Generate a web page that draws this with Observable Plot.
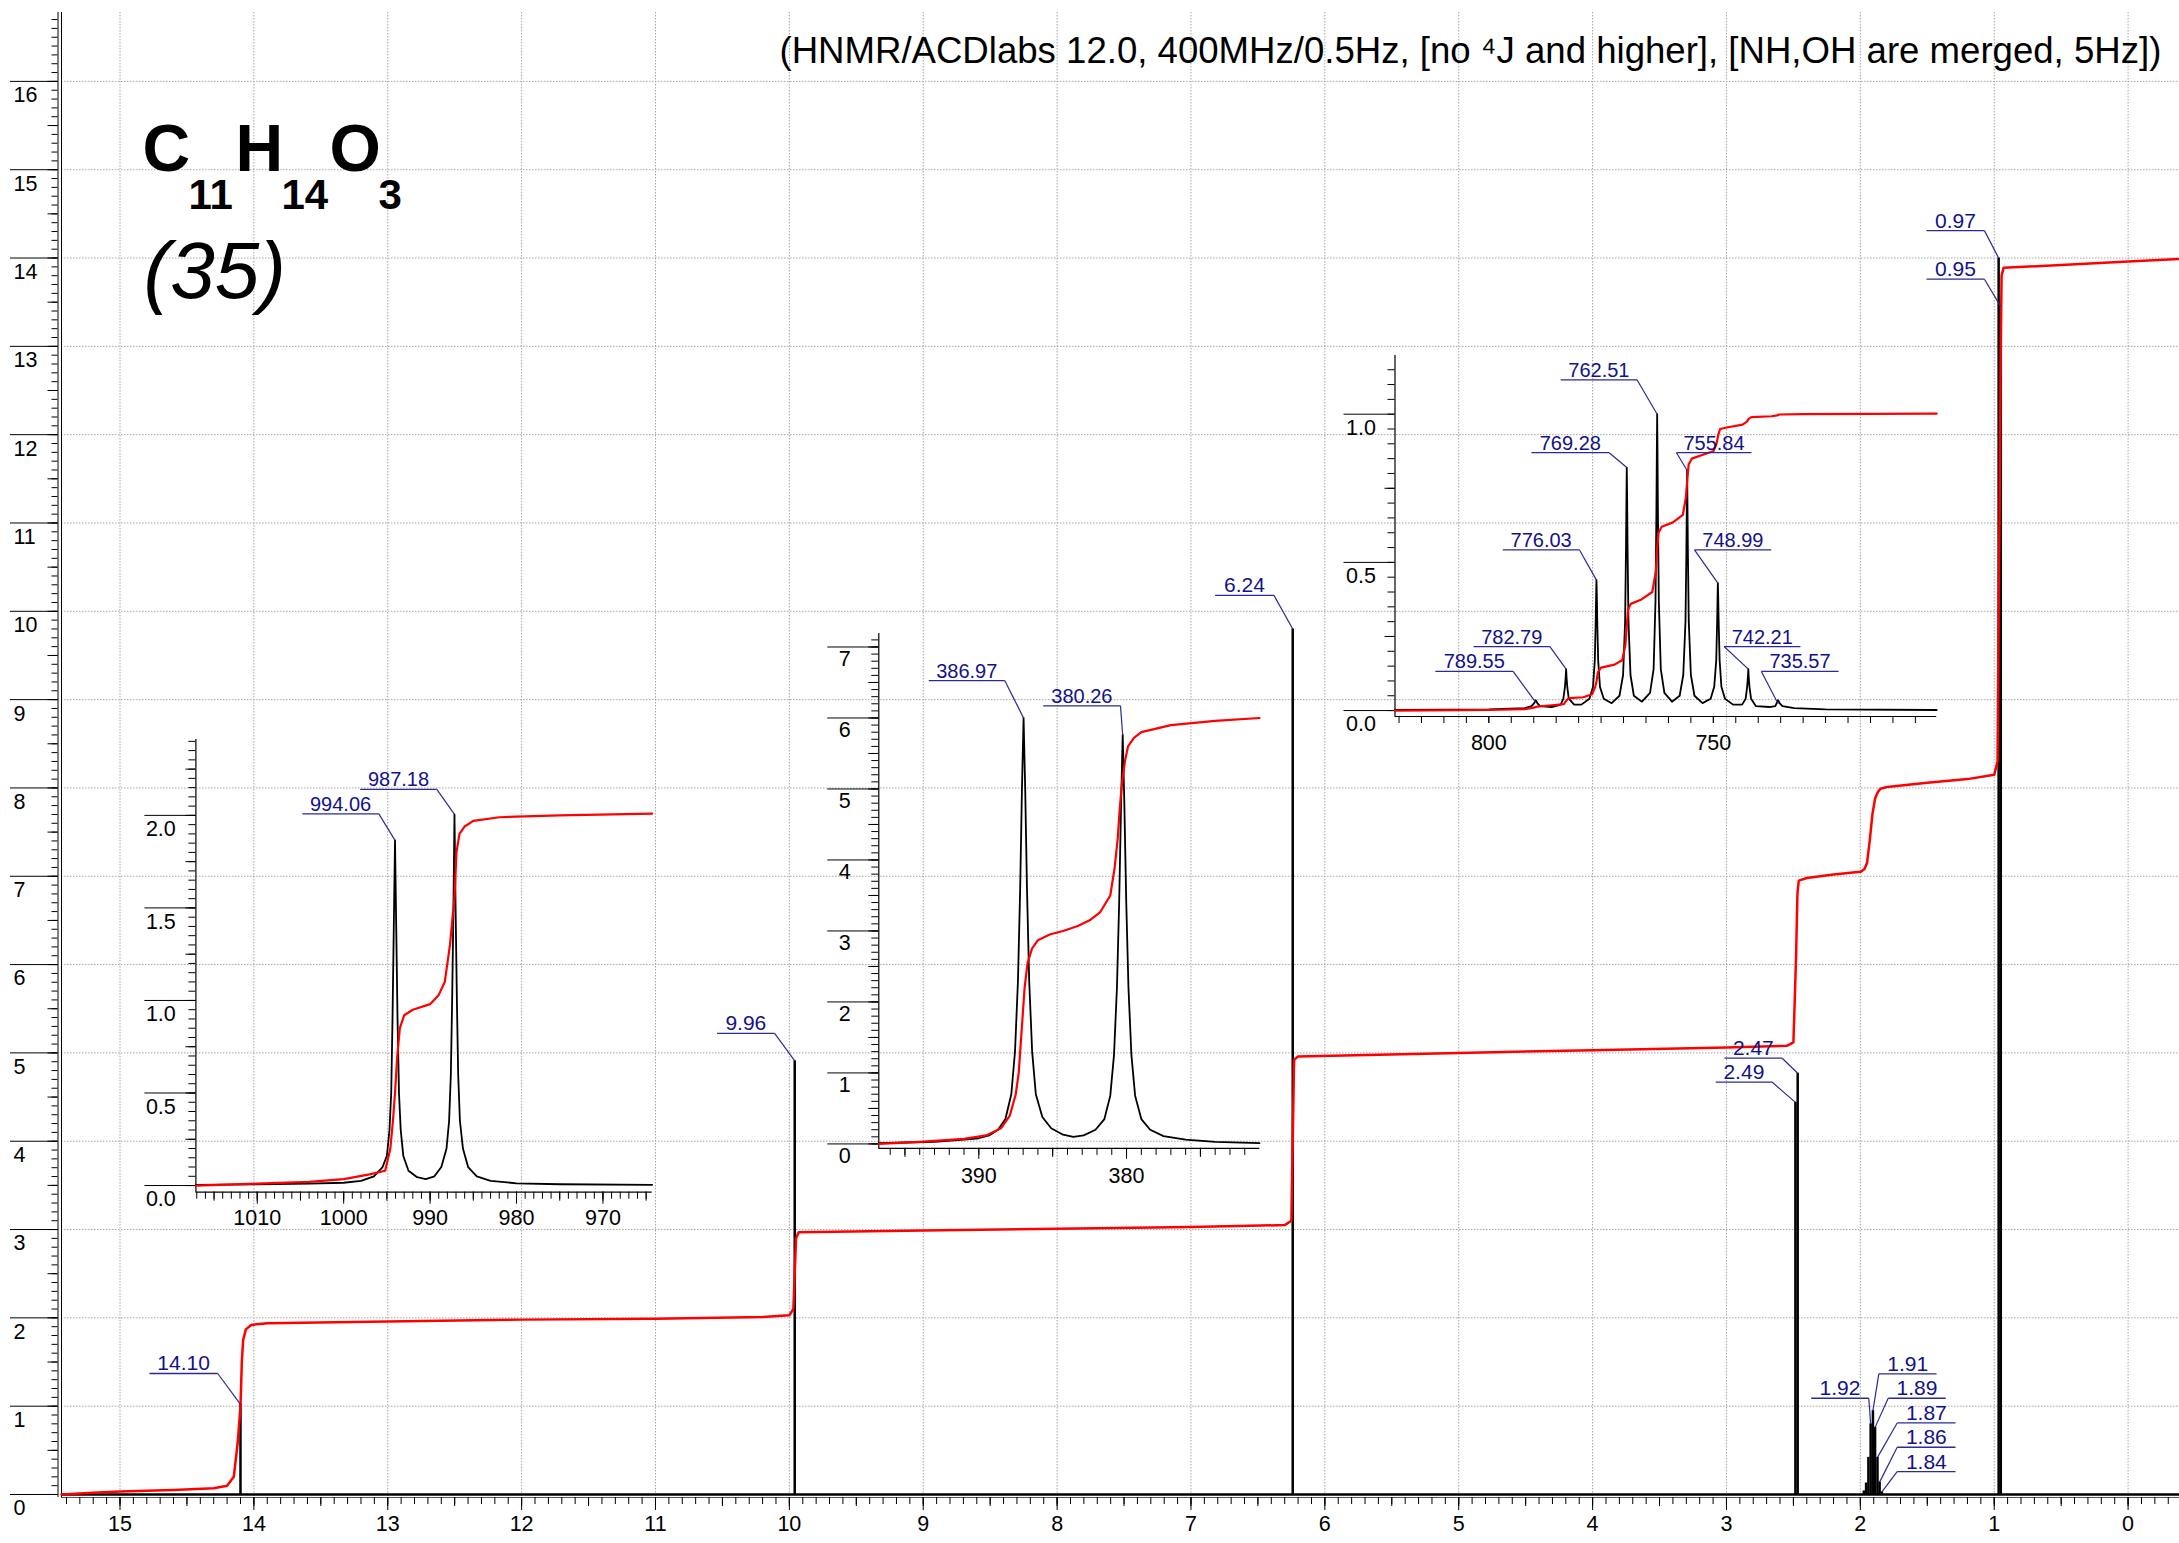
<!DOCTYPE html>
<html><head><meta charset="utf-8">
<script src="https://cdn.jsdelivr.net/npm/d3@7"></script>
<script src="https://cdn.jsdelivr.net/npm/@observablehq/plot@0.6"></script>
<style>
html,body{margin:0;padding:0;background:#fff;}
#chart{position:relative;width:2179px;height:1543px;overflow:hidden;background:#fff;}
#chart svg{position:absolute;left:0;top:0;}
</style></head><body><div id="chart"></div>
<script>
// ---------------- DATA ----------------
// main spectrum (ppm, intensity)
const mainPeakPpm    = [14.10, 9.96, 6.24, 2.485, 2.468, 1.974, 1.957, 1.940, 1.923, 1.906, 1.890, 1.872, 1.856, 1.839, 0.967, 0.951];
const mainPeakHeight = [1.02, 4.91, 9.80, 4.44, 4.77, 0.04, 0.13, 0.42, 0.80, 0.95, 0.76, 0.42, 0.14, 0.03, 14.0, 13.45];
const mainIntegral = [[15.437,0.0],[15.2,0.02],[15.0,0.035],[14.6,0.05],[14.3,0.07],[14.2,0.1],[14.15,0.2],[14.12,0.6],[14.10,1.0],[14.09,1.5],[14.08,1.75],[14.06,1.87],[14.02,1.92],[13.9,1.94],[13.0,1.96],[12.0,1.98],[11.0,1.99],[10.2,2.01],[10.0,2.03],[9.97,2.1],[9.96,2.5],[9.95,2.9],[9.93,2.97],[9.0,2.99],[8.0,3.01],[7.0,3.03],[6.3,3.05],[6.25,3.1],[6.24,4.0],[6.23,4.92],[6.2,4.96],[5.0,5.0],[4.0,5.03],[3.0,5.06],[2.55,5.08],[2.5,5.12],[2.49,5.6],[2.48,6.1],[2.47,6.8],[2.46,6.95],[2.4,6.98],[2.2,7.02],[2.0,7.05],[1.97,7.08],[1.95,7.15],[1.93,7.4],[1.91,7.7],[1.89,7.88],[1.87,7.95],[1.85,7.99],[1.8,8.01],[1.5,8.06],[1.2,8.1],[1.0,8.15],[0.975,8.3],[0.967,10.0],[0.96,11.1],[0.951,13.0],[0.945,13.8],[0.93,13.89],[0.5,13.92],[0.0,13.96],[-0.384,13.99]];
const mainLabelText = ["14.10","9.96","6.24","2.47","2.49","1.92","1.91","1.89","1.87","1.86","1.84","0.97","0.95"];
const mainLabelPeakX = [14.10, 9.96, 6.24, 2.468, 2.485, 1.923, 1.906, 1.890, 1.872, 1.856, 1.839, 0.967, 0.951];
const mainLabelPeakY = [1.02, 4.91, 9.80, 4.77, 4.44, 0.80, 0.95, 0.76, 0.42, 0.14, 0.03, 14.0, 13.45];
const mainLabelLineY = [1.37, 5.22, 10.18, 4.94, 4.67, 1.09, 1.366, 1.09, 0.81, 0.535, 0.26, 14.31, 13.76];
const mainLabelX1 = [14.78, 10.54, 6.82, 3.015, 3.08, 2.367, 1.862, 1.792, 1.725, 1.725, 1.725, 1.506, 1.506];
const mainLabelX2 = [14.27, 10.11, 6.38, 2.584, 2.66, 1.937, 1.431, 1.362, 1.289, 1.289, 1.289, 1.073, 1.073];

// inset 1 : 2.47/2.49 doublet (Hz)
const inset1Spectrum = [[1017.1,0.004],[1010,0.006],[1004,0.01],[1000,0.015],[998,0.025],[996.5,0.05],[995.5,0.1],[995,0.16],[994.7,0.3],[994.5,0.5],[994.35,0.9],[994.2,1.4],[994.06,1.865],[993.92,1.4],[993.77,0.9],[993.6,0.5],[993.4,0.3],[993.1,0.16],[992.5,0.08],[991.5,0.045],[990.5,0.035],[989.5,0.05],[988.7,0.1],[988.1,0.2],[987.8,0.35],[987.6,0.6],[987.45,1.0],[987.3,1.5],[987.18,2.005],[987.05,1.5],[986.9,1.0],[986.75,0.6],[986.55,0.35],[986.2,0.2],[985.6,0.1],[984.6,0.05],[983,0.025],[980,0.012],[975,0.007],[964.3,0.004]];
const inset1Integral = [[1017.1,0.0],[1010,0.01],[1004,0.02],[1000,0.035],[997,0.06],[995.2,0.08],[994.6,0.2],[994.3,0.35],[994.06,0.5],[993.8,0.7],[993.5,0.85],[993,0.92],[992,0.95],[990,0.98],[989,1.03],[988.3,1.1],[987.7,1.3],[987.4,1.45],[987.18,1.55],[986.95,1.8],[986.6,1.9],[986,1.94],[985,1.97],[982,1.99],[975,2.0],[964.3,2.01]];
const inset1LabelText = ["994.06","987.18"];
const inset1LabelPeakX = [994.06, 987.18];
const inset1LabelPeakY = [1.865, 2.005];
const inset1LabelLineY = [2.008, 2.141];
const inset1LabelX1 = [1004.79, 998.09];
const inset1LabelX2 = [995.93, 989.22];

// inset 2 : 0.95/0.97 doublet (Hz)
const inset2Spectrum = [[396.77,0.01],[395,0.02],[393,0.03],[391,0.06],[390,0.08],[389.3,0.12],[388.7,0.2],[388.2,0.35],[387.8,0.7],[387.55,1.3],[387.35,2.3],[387.2,3.6],[387.08,5.0],[386.97,6.0],[386.86,5.0],[386.74,3.6],[386.59,2.3],[386.39,1.3],[386.14,0.7],[385.7,0.38],[385.1,0.22],[384.3,0.13],[383.6,0.1],[382.9,0.12],[382.1,0.2],[381.5,0.35],[381.1,0.68],[380.85,1.25],[380.65,2.2],[380.5,3.4],[380.37,4.8],[380.26,5.76],[380.15,4.8],[380.02,3.4],[379.87,2.2],[379.67,1.25],[379.42,0.68],[379.0,0.35],[378.4,0.2],[377.5,0.11],[376,0.06],[374,0.03],[371,0.01]];
const inset2Integral = [[396.77,0.0],[394,0.03],[391,0.07],[389.5,0.12],[388.5,0.22],[387.9,0.4],[387.5,0.7],[387.3,1.0],[387.1,1.6],[386.9,2.2],[386.7,2.55],[386.4,2.75],[386.0,2.87],[385.2,2.95],[384.3,3.0],[383.3,3.07],[382.5,3.15],[381.8,3.26],[381.1,3.5],[380.8,3.9],[380.6,4.3],[380.45,4.75],[380.3,5.1],[380.1,5.4],[379.9,5.6],[379.5,5.72],[379,5.8],[377,5.9],[374,5.96],[371,6.0]];
const inset2LabelText = ["386.97","380.26"];
const inset2LabelPeakX = [386.97, 380.26];
const inset2LabelPeakY = [6.0, 5.76];
const inset2LabelLineY = [6.525, 6.17];
const inset2LabelX1 = [393.39, 385.64];
const inset2LabelX2 = [388.24, 380.41];

// inset 3 : 1.84-1.97 multiplet (Hz)
const inset3Spectrum = [[820.9,0.002],[800,0.004],[792,0.008],[790.5,0.015],[789.9,0.025],[789.55,0.035],[789.2,0.025],[788.6,0.015],[786,0.012],[784,0.02],[783.4,0.04],[783.05,0.08],[782.9,0.11],[782.79,0.14],[782.68,0.11],[782.53,0.08],[782.2,0.04],[781,0.02],[779.4,0.02],[777.6,0.04],[776.8,0.08],[776.4,0.17],[776.2,0.3],[776.1,0.39],[776.03,0.44],[775.95,0.39],[775.85,0.3],[775.65,0.17],[775.25,0.08],[774.4,0.04],[772.65,0.025],[770.9,0.05],[770.1,0.12],[769.65,0.3],[769.45,0.55],[769.35,0.72],[769.28,0.82],[769.2,0.72],[769.1,0.55],[768.9,0.3],[768.45,0.12],[767.7,0.05],[765.9,0.03],[764.1,0.06],[763.3,0.14],[762.88,0.37],[762.68,0.67],[762.58,0.88],[762.51,1.0],[762.44,0.88],[762.34,0.67],[762.14,0.37],[761.7,0.14],[760.9,0.06],[759.2,0.03],[757.5,0.05],[756.7,0.12],[756.2,0.3],[756.0,0.54],[755.9,0.71],[755.84,0.81],[755.77,0.71],[755.67,0.54],[755.47,0.3],[755.0,0.12],[754.2,0.05],[752.4,0.025],[750.6,0.04],[749.8,0.08],[749.35,0.17],[749.15,0.3],[749.06,0.38],[748.99,0.43],[748.91,0.38],[748.81,0.3],[748.6,0.17],[748.2,0.08],[747.4,0.04],[745.6,0.02],[743.6,0.02],[742.8,0.04],[742.47,0.08],[742.32,0.11],[742.21,0.14],[742.1,0.11],[741.95,0.08],[741.6,0.04],[740.5,0.015],[737.5,0.012],[736.2,0.015],[735.9,0.025],[735.57,0.035],[735.25,0.025],[734.6,0.015],[732,0.008],[725,0.004],[700.25,0.002]];
const inset3Integral = [[820.9,0.0],[800,0.002],[792,0.005],[790,0.01],[789.3,0.013],[786,0.018],[783.3,0.022],[782.9,0.03],[782.5,0.038],[782,0.042],[779,0.045],[777,0.055],[776.3,0.08],[776,0.1],[775.7,0.13],[775,0.145],[772,0.155],[770.3,0.17],[769.6,0.22],[769.3,0.28],[769,0.34],[768.4,0.36],[766,0.375],[763.6,0.4],[762.8,0.47],[762.5,0.55],[762.2,0.6],[761.5,0.62],[759,0.635],[756.8,0.66],[756.1,0.72],[755.8,0.78],[755.5,0.83],[754.8,0.85],[752,0.865],[750,0.875],[749.3,0.9],[748.9,0.93],[748.5,0.95],[747,0.955],[743.5,0.965],[742.5,0.975],[742.1,0.985],[741.5,0.99],[737,0.993],[735.8,0.996],[735.3,0.999],[730,1.0],[700.25,1.002]];
const inset3LabelText = ["789.55","782.79","776.03","769.28","762.51","755.84","748.99","742.21","735.57"];
const inset3LabelPeakX = [789.55, 782.79, 776.03, 769.28, 762.51, 755.84, 748.99, 742.21, 735.57];
const inset3LabelPeakY = [0.028, 0.14, 0.44, 0.82, 1.0, 0.81, 0.43, 0.14, 0.023];
const inset3LabelLineY = [0.132, 0.216, 0.542, 0.87, 1.116, 0.87, 0.542, 0.216, 0.132];
const inset3LabelX1 = [811.9, 803.4, 796.9, 790.5, 784.0, 758.2, 754.2, 747.6, 739.3];
const inset3LabelX2 = [794.6, 786.4, 779.8, 773.2, 767.0, 741.5, 737.1, 730.6, 722.1];

// texts
const titleText = "(HNMR/ACDlabs 12.0, 400MHz/0.5Hz, [no \u2074J and higher], [NH,OH are merged, 5Hz])";
const formulaParts = ["C", "11", "H", "14", "O", "3"];
const compoundNumber = "(35)";

// ---------------- DRAWING ----------------
const W = 2179, H = 1543;
const FONT = "Arial, 'Liberation Sans', Helvetica, sans-serif";
const NAVY = "#12128a";
const LEAD = "#2a2a9a";
const TICKFONT = 21.5;
const GRID = {stroke: "#a6a6a6", strokeOpacity: 1, strokeDasharray: "1.5,1.5", strokeWidth: 1};
const pts = a => a.map(([x, y]) => ({x, y}));
const noText = () => "";

function labelMarks(texts, px, py, ly, x1, x2, size) {
  const rows = texts.map((t, i) => ({
    t, px: px[i], py: py[i], ly: ly[i], x1: x1[i], x2: x2[i],
    ax: Math.abs(x1[i] - px[i]) < Math.abs(x2[i] - px[i]) ? x1[i] : x2[i],
    cx: (x1[i] + x2[i]) / 2
  }));
  return [
    Plot.link(rows, {x1: "x1", x2: "x2", y1: "ly", y2: "ly", stroke: LEAD, strokeWidth: 1.3}),
    Plot.link(rows, {x1: "ax", y1: "ly", x2: "px", y2: "py", stroke: LEAD, strokeWidth: 1.2}),
    Plot.text(rows, {x: "cx", y: "ly", text: "t", dy: -3, lineAnchor: "bottom", fill: NAVY, fontSize: size, fontFamily: FONT})
  ];
}

function makePlot(m, xDomain, yDomain, marks) {
  return Plot.plot({
    width: W, height: H,
    marginLeft: m[0], marginRight: m[1], marginTop: m[2], marginBottom: m[3],
    x: {domain: xDomain, axis: null, label: null},
    y: {domain: yDomain, axis: null, label: null},
    style: {background: "transparent", fontFamily: FONT, fontSize: "20px", color: "#000", overflow: "visible"},
    marks
  });
}

const chart = document.getElementById("chart");

// ---- main plot ----
{
  const xD = [15.437, -0.384], yD = [-0.034, 16.78];
  const peaks = mainPeakPpm.map((x, i) => ({x, y: mainPeakHeight[i]}));
  const svg = makePlot([61, 0, 12, 46], xD, yD, [
    Plot.gridX({ticks: d3.range(0, 16), ...GRID}),
    Plot.gridY({ticks: d3.range(0, 17), ...GRID}),
    Plot.ruleX([xD[0]], {stroke: "#000", strokeWidth: 1}),
    Plot.ruleX([xD[0]], {stroke: "#000", strokeWidth: 1, dx: -3.5}),
    Plot.ruleY([yD[0]], {stroke: "#555", strokeWidth: 1}),
    Plot.axisX({ticks: d3.range(-3, 155).map(i => i / 10), tickSize: 7, tickFormat: noText, label: null}),
    Plot.axisX({ticks: d3.range(0, 31).map(i => i / 2), tickSize: 9, tickFormat: noText, label: null}),
    Plot.axisX({ticks: d3.range(0, 16), tickSize: 13, tickPadding: 5, tickFormat: d => String(d), fontSize: TICKFONT, label: null}),
    Plot.axisY({ticks: d3.range(0, 168).map(i => i / 10), tickSize: 6, tickFormat: noText, dx: -3.5, label: null}),
    Plot.axisY({ticks: d3.range(0, 33).map(i => i / 2), tickSize: 10, tickFormat: noText, dx: -3.5, label: null}),
    Plot.axisY({ticks: d3.range(0, 17), tickSize: 47.5, tickFormat: noText, dx: -3.5, label: null}),
    Plot.axisY({ticks: d3.range(0, 17), tickSize: 0, tickPadding: 0, textAnchor: "start", dx: -48, dy: 14, tickFormat: d => String(d), fontSize: TICKFONT, label: null}),
    Plot.ruleY([0], {stroke: "#000", strokeWidth: 2.5}),
    Plot.ruleX(peaks, {x: "x", y1: 0, y2: "y", stroke: "#000", strokeWidth: 2.5}),
    Plot.line(pts(mainIntegral), {x: "x", y: "y", stroke: "#ff0000", strokeWidth: 2.5}),
    ...labelMarks(mainLabelText, mainLabelPeakX, mainLabelPeakY, mainLabelLineY, mainLabelX1, mainLabelX2, 21),
    Plot.text([titleText], {frameAnchor: "top-left", text: d => d, dx: 718, dy: 50, textAnchor: "start", lineAnchor: "bottom", fontSize: 36.6, fill: "#000"}),
    Plot.text([formulaParts[0]], {frameAnchor: "top-left", text: d => d, dx: 81, dy: 158, textAnchor: "start", lineAnchor: "bottom", fontSize: 66, fontWeight: "bold"}),
    Plot.text([formulaParts[1]], {frameAnchor: "top-left", text: d => d, dx: 127, dy: 196, textAnchor: "start", lineAnchor: "bottom", fontSize: 42, fontWeight: "bold"}),
    Plot.text([formulaParts[2]], {frameAnchor: "top-left", text: d => d, dx: 174, dy: 158, textAnchor: "start", lineAnchor: "bottom", fontSize: 66, fontWeight: "bold"}),
    Plot.text([formulaParts[3]], {frameAnchor: "top-left", text: d => d, dx: 220, dy: 196, textAnchor: "start", lineAnchor: "bottom", fontSize: 42, fontWeight: "bold"}),
    Plot.text([formulaParts[4]], {frameAnchor: "top-left", text: d => d, dx: 268, dy: 158, textAnchor: "start", lineAnchor: "bottom", fontSize: 66, fontWeight: "bold"}),
    Plot.text([formulaParts[5]], {frameAnchor: "top-left", text: d => d, dx: 317, dy: 196, textAnchor: "start", lineAnchor: "bottom", fontSize: 42, fontWeight: "bold"}),
    Plot.text([compoundNumber], {frameAnchor: "top-left", text: d => d, dx: 82, dy: 285, textAnchor: "start", lineAnchor: "bottom", fontSize: 80, fontStyle: "italic"})
  ]);
  chart.appendChild(svg);
}

// ---- inset helper ----
function inset(cfg) {
  const {m, xD, yD, xMinor, xMid, xMajor, xTick, xPad, yMinor, yMid, yMajor, yFmt, yDx, yDy, spec, integ, labels} = cfg;
  const marks = [
    Plot.ruleX([xD[0]], {stroke: "#000", strokeWidth: 1.2}),
    Plot.ruleY([yD[0]], {stroke: "#000", strokeWidth: 1.2}),
    Plot.axisX({ticks: xMinor, tickSize: 7, tickFormat: noText, label: null}),
    Plot.axisX({ticks: xMid, tickSize: 9, tickFormat: noText, label: null}),
    Plot.axisX({ticks: xMajor, tickSize: xTick, tickPadding: xPad, tickFormat: d => String(d), fontSize: TICKFONT, label: null}),
    Plot.axisY({ticks: yMinor, tickSize: 7, tickFormat: noText, label: null}),
    Plot.axisY({ticks: yMid, tickSize: 10, tickFormat: noText, label: null}),
    Plot.axisY({ticks: yMajor, tickSize: 51, tickFormat: noText, label: null}),
    Plot.axisY({ticks: yMajor, tickSize: 0, tickPadding: 0, textAnchor: "start", dx: yDx, dy: yDy, tickFormat: yFmt, fontSize: TICKFONT, label: null}),
    Plot.line(pts(spec), {x: "x", y: "y", stroke: "#000", strokeWidth: 1.8}),
    Plot.line(pts(integ), {x: "x", y: "y", stroke: "#ff0000", strokeWidth: 2.2}),
    ...labelMarks(...labels, 20)
  ];
  chart.appendChild(makePlot(m, xD, yD, marks));
}

inset({
  m: [195.4, 1527.3, 739, 351.3], xD: [1017.1, 964.3], yD: [-0.036, 2.41],
  xMinor: d3.range(965, 1018), xMid: d3.range(965, 1018, 5), xMajor: [970, 980, 990, 1000, 1010], xTick: 12, xPad: 6,
  yMinor: d3.range(0, 49).map(i => i * 0.05), yMid: d3.range(0, 10).map(i => i * 0.25), yMajor: [0, 0.5, 1, 1.5, 2],
  yFmt: d3.format(".1f"), yDx: -50, yDy: 14,
  spec: inset1Spectrum, integ: inset1Integral,
  labels: [inset1LabelText, inset1LabelPeakX, inset1LabelPeakY, inset1LabelLineY, inset1LabelX1, inset1LabelX2]
});

inset({
  m: [878.3, 919.7, 633, 395.1], xD: [396.77, 370.98], yD: [-0.063, 7.19],
  xMinor: d3.range(372, 397), xMid: [375, 385, 395], xMajor: [380, 390], xTick: 11, xPad: 8,
  yMinor: d3.range(0, 72).map(i => i / 10), yMid: d3.range(0, 15).map(i => i / 2), yMajor: d3.range(0, 8),
  yFmt: d => String(d), yDx: -40, yDy: 12,
  spec: inset2Spectrum, integ: inset2Integral,
  labels: [inset2LabelText, inset2LabelPeakX, inset2LabelPeakY, inset2LabelLineY, inset2LabelX1, inset2LabelX2]
});

inset({
  m: [1394.5, 242.8, 355, 827], xD: [820.9, 700.25], yD: [-0.02, 1.198],
  xMinor: d3.range(705, 821, 5), xMid: [], xMajor: [750, 800], xTick: 7, xPad: 11,
  yMinor: d3.range(0, 24).map(i => i * 0.05), yMid: [0.25, 0.75], yMajor: [0, 0.5, 1],
  yFmt: d3.format(".1f"), yDx: -49, yDy: 14,
  spec: inset3Spectrum, integ: inset3Integral,
  labels: [inset3LabelText, inset3LabelPeakX, inset3LabelPeakY, inset3LabelLineY, inset3LabelX1, inset3LabelX2]
});
</script>
</body></html>
